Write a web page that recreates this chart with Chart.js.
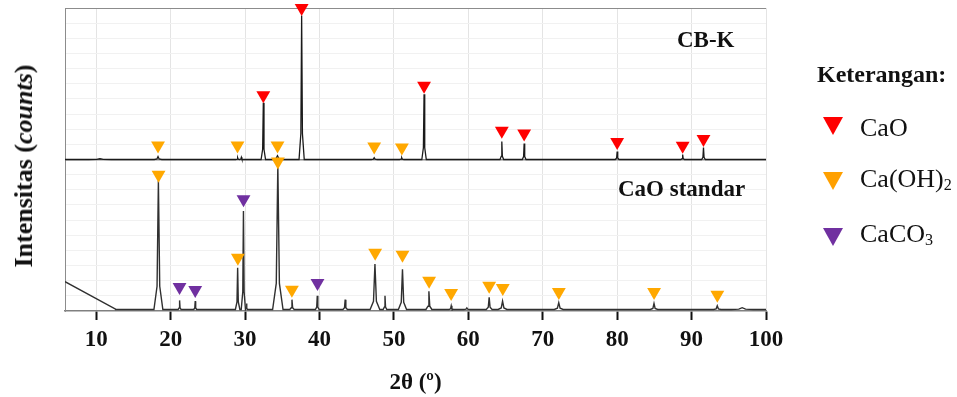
<!DOCTYPE html>
<html>
<head>
<meta charset="utf-8">
<script src="https://cdn.jsdelivr.net/npm/chart.js@4.4.1/dist/chart.umd.min.js"></script>
<style>
  html, body { margin: 0; padding: 0; background: #fff; }
  #wrap { position: relative; width: 957px; height: 397px; font-family: "Liberation Serif", "DejaVu Serif", serif; color: #111; }
  #xrd { position: absolute; left: 0; top: 0; }
  .lbl { position: absolute; white-space: nowrap; line-height: 1; pointer-events: none; }
  .bold { font-weight: bold; }
  .tri { position: absolute; width: 0; height: 0; border-left: 10px solid transparent; border-right: 10px solid transparent; border-top: 18px solid; }
  sub { font-size: 0.62em; vertical-align: -0.2em; line-height: 0; }
  #ytitle { left: 24px; top: 166px; font-size: 26px; font-weight: bold; transform: translate(-50%, -50%) rotate(-90deg); }
</style>
</head>
<body>
<div id="wrap">
  <canvas id="xrd" width="957" height="397"></canvas>

  <div class="lbl" id="ytitle">Intensitas (<i>counts</i>)</div>

  <div class="lbl bold" style="left:677px; top:28px; font-size:23px;">CB-K</div>
  <div class="lbl bold" style="left:618px; top:177px; font-size:23px;">CaO standar</div>

  <div class="lbl bold" style="left:817px; top:62px; font-size:24px;">Keterangan:</div>
  <div class="tri" style="left:823px; top:117px; border-top-color:#ff0000;"></div>
  <div class="lbl" style="left:860px; top:115px; font-size:26px;">CaO</div>
  <div class="tri" style="left:823px; top:172px; border-top-color:#ffa000;"></div>
  <div class="lbl" style="left:860px; top:166px; font-size:26px;">Ca(OH)<sub>2</sub></div>
  <div class="tri" style="left:823px; top:228px; border-top-color:#7030a0;"></div>
  <div class="lbl" style="left:860px; top:221px; font-size:26px;">CaCO<sub>3</sub></div>
</div>

<script>
// x axis ticks (2θ)
const xTicks = [10, 20, 30, 40, 50, 60, 70, 80, 90, 100];

// CB-K pattern (upper panel, offset by 1 on the shared y axis)
const cbkBase   = 1.0;
const cbkPos    = [10.5, 18.3, 29.0, 29.5, 32.45, 34.35, 37.6, 47.35, 51.05, 54.05, 64.5, 67.5, 80.0, 88.8, 91.6];
const cbkHeight = [0.005, 0.02, 0.012, 0.015, 0.375, 0.025, 0.95, 0.012, 0.012, 0.43, 0.118, 0.105, 0.053, 0.033, 0.079];
const cbkWidth  = [1.5, 0.5, 0.25, 0.25, 0.3, 0.7, 0.35, 0.4, 0.3, 0.3, 0.25, 0.25, 0.25, 0.25, 0.25];

// CaO standard pattern (lower panel)
const stdBase   = 0.01;
const stdRamp   = [[5.8, 0.194], [12.6, 0.012]];   // low-angle background
const stdPos    = [18.35, 21.2, 23.3, 29.0, 29.78, 30.2, 34.4, 36.3, 39.7, 43.45, 47.45, 48.8, 51.15, 54.7, 57.7, 59.8, 62.8, 64.6, 72.15, 84.95, 93.45, 96.8];
const stdHeight = [0.85, 0.06, 0.055, 0.275, 0.65, 0.04, 0.955, 0.065, 0.09, 0.065, 0.3, 0.09, 0.265, 0.12, 0.025, 0.01, 0.08, 0.055, 0.045, 0.04, 0.025, 0.012];
const stdWidth  = [0.6, 0.2, 0.2, 0.3, 0.3, 0.15, 0.7, 0.3, 0.25, 0.3, 0.65, 0.25, 0.55, 0.4, 0.3, 0.4, 0.4, 0.6, 0.6, 0.5, 0.5, 1.5];

// phase markers (▼)
const caoMarkX   = [32.45, 37.6, 54.05, 64.5, 67.5, 80.0, 88.8, 91.6];
const caoMarkY   = [1.424, 2.0, 1.487, 1.19, 1.171, 1.115, 1.09, 1.135];
const caohMarkX  = [18.3, 28.98, 34.36, 47.35, 51.07, 18.37, 29.03, 34.41, 36.29, 47.48, 51.15, 54.73, 57.69, 62.8, 64.63, 72.16, 84.96, 93.46];
const caohMarkY  = [1.092, 1.092, 1.092, 1.086, 1.079, 0.90, 0.351, 0.987, 0.141, 0.384, 0.371, 0.199, 0.119, 0.166, 0.152, 0.126, 0.126, 0.108];
const caco3MarkX = [21.19, 23.3, 29.79, 39.73];
const caco3MarkY = [0.159, 0.139, 0.737, 0.185];

function buildTrace(base, pos, height, width, extra) {
  const pts = (extra || []).map(p => ({ x: p[0], y: p[1] }));
  pts.push({ x: extra ? extra[extra.length - 1][0] : 5.8, y: base });
  pos.forEach((p, i) => {
    const w = width[i], h = height[i];
    pts.push({ x: p - w, y: base });
    pts.push({ x: p - w * 0.3, y: base + h * 0.18 });
    pts.push({ x: p, y: base + h });
    pts.push({ x: p + w * 0.3, y: base + h * 0.18 });
    pts.push({ x: p + w, y: base });
  });
  pts.push({ x: 100, y: base });
  return pts.sort((a, b) => a.x - b.x);
}

const markers = (xs, ys) => xs.map((x, i) => ({ x, y: ys[i] }));

function markerSet(label, xs, ys, color) {
  return {
    label, data: markers(xs, ys), showLine: false, order: 0, clip: false,
    pointStyle: "triangle", rotation: 180, pointRadius: 8, pointHoverRadius: 8,
    pointBackgroundColor: color, pointBorderWidth: 0, borderColor: color
  };
}

const isVal = (v, t) => Math.abs(v - t) < 1e-6;

new Chart(document.getElementById("xrd"), {
  type: "line",
  data: {
    datasets: [
      markerSet("CaO", caoMarkX, caoMarkY, "#ff0000"),
      markerSet("Ca(OH)2", caohMarkX, caohMarkY, "#ffa800"),
      markerSet("CaCO3", caco3MarkX, caco3MarkY, "#7030a0"),
      { label: "CB-K", data: buildTrace(cbkBase, cbkPos, cbkHeight, cbkWidth), order: 1,
        borderColor: "#1a1a1a", borderWidth: 1.3, pointRadius: 0, tension: 0 },
      { label: "CaO standar", data: buildTrace(stdBase, stdPos, stdHeight, stdWidth, stdRamp), order: 1,
        borderColor: "#303030", borderWidth: 1.4, pointRadius: 0, tension: 0 }
    ]
  },
  options: {
    responsive: false,
    animation: false,
    layout: { padding: { top: 8, right: 191, left: 0, bottom: 0 } },
    plugins: { legend: { display: false }, tooltip: { enabled: false } },
    scales: {
      x: {
        type: "linear", min: 5.8, max: 100,
        afterBuildTicks: s => { s.ticks = xTicks.map(v => ({ value: v })); },
        afterFit: s => { s.height = 86; },
        ticks: { color: "#111", padding: 6, font: { family: "Liberation Serif", size: 23, weight: "bold" } },
        grid: { color: "#e4e4e4", lineWidth: 1, tickColor: "#111", tickLength: 9, tickWidth: 2 },
        border: { color: "#808080", width: 1.5 },
        title: { display: true, text: "2θ (º)", color: "#111", padding: { top: 0, bottom: 0 },
                 font: { family: "Liberation Serif", size: 23, weight: "bold" } }
      },
      y: {
        min: 0, max: 2,
        afterFit: s => { s.width = 65; },
        ticks: { display: false, stepSize: 0.1 },
        grid: {
          drawTicks: false,
          color: c => isVal(c.tick.value, 1) || isVal(c.tick.value, 2) ? "#8c8c8c" : isVal(c.tick.value, 0) ? "rgba(0,0,0,0)" : "#f1f1f1",
          lineWidth: c => isVal(c.tick.value, 1) ? 1.5 : 1
        },
        border: { color: "#8c8c8c", width: 1 }
      }
    }
  }
});
</script>
</body>
</html>
